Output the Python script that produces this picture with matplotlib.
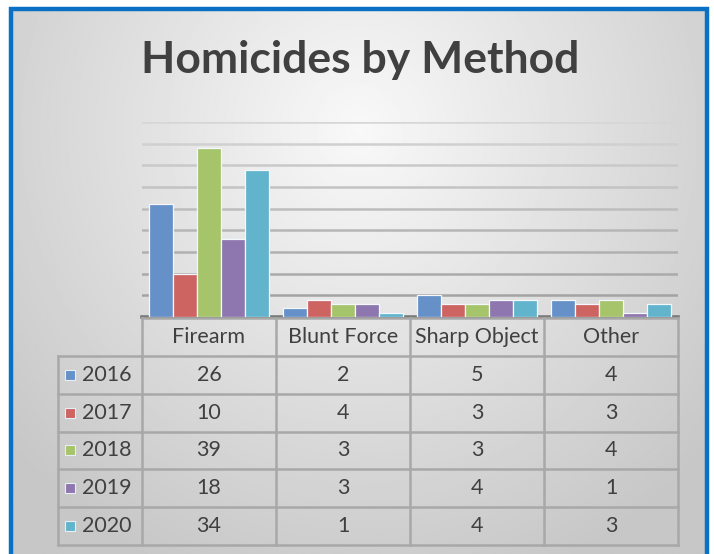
import numpy as np
import matplotlib
matplotlib.use('Agg')
import matplotlib.pyplot as plt
from matplotlib.patches import Rectangle

plt.rcParams['font.family'] = ['Lato', 'DejaVu Sans']

methods = ['Firearm', 'Blunt Force', 'Sharp Object', 'Other']
years = ['2016', '2017', '2018', '2019', '2020']
counts_2016 = [26, 2, 5, 4]
counts_2017 = [10, 4, 3, 3]
counts_2018 = [39, 3, 3, 4]
counts_2019 = [18, 3, 4, 1]
counts_2020 = [34, 1, 4, 3]
series = [counts_2016, counts_2017, counts_2018, counts_2019, counts_2020]
colors = ['#6590C8', '#CD6462', '#A6C46A', '#8E76AE', '#62B4CC']

W, H = 714, 554
fig = plt.figure(figsize=(W / 100, H / 100), dpi=100)
fig.patch.set_facecolor('white')


def px(x0, y0, x1, y1):
    # pixel box (top-left origin) -> figure fraction rect
    return [x0 / W, 1 - y1 / H, (x1 - x0) / W, (y1 - y0) / H]


# background: soft radial gradient inside the blue frame
bg = fig.add_axes(px(12, 9, 707, H))
yy, xx = np.mgrid[0:1:300j, 0:1:400j]
r = np.sqrt(((xx - 0.5) / 0.75) ** 2 + ((yy - 0.22) / 1.0) ** 2)
shade = np.clip(0.975 - 0.22 * r, 0.78, 0.975)
bg.imshow(shade, cmap='gray', vmin=0, vmax=1, aspect='auto', extent=(0, 1, 1, 0))
bg.set_axis_off()
fig.patches.append(Rectangle((11.5 / W, -0.05), 695.5 / W, (H - 8.5) / H + 0.05,
                             transform=fig.transFigure, fill=False,
                             edgecolor='#0A70C6', linewidth=3.2, zorder=10))

fig.text(360 / W, 1 - 60 / H, 'Homicides by Method', ha='center', va='center',
         fontsize=32, fontweight='bold', color='#404040')

# bar chart
ax = fig.add_axes(px(142, 122, 678, 317))
ax.set_facecolor('none')
x = np.arange(len(methods))
bw = 0.178
for i, (vals, c) in enumerate(zip(series, colors)):
    ax.bar(x + (i - 2) * bw, vals, width=bw, color=c, edgecolor='#F4F8FC',
           linewidth=0.9, zorder=3)
ax.set_xlim(-0.5, 3.5)
ax.set_ylim(0, 45)
ax.set_yticks(np.arange(5, 46, 5))
ax.yaxis.grid(True, linewidth=1.8, zorder=0)
for k, gl in enumerate(ax.get_ygridlines()):
    g = 0.64 + 0.025 * k
    gl.set_color((g, g, g))
ax.tick_params(left=False, bottom=False, labelleft=False, labelbottom=False)
for s in ['top', 'right', 'left']:
    ax.spines[s].set_visible(False)
ax.spines['bottom'].set_color('#7A7A7A')
ax.spines['bottom'].set_linewidth(2.6)

# data table below the chart
tx = fig.add_axes(px(142, 318, 678, 545))
tx.set_xlim(-0.5, 3.5)
tx.set_ylim(6, 0)
tx.set_axis_off()
lab_left = -0.5 - 84 / 134
line_kw = dict(color='#A8A8A8', linewidth=1.8, clip_on=False)
tx.plot([-0.5, 3.5], [0, 0], **line_kw)
for r_ in range(1, 7):
    tx.plot([lab_left, 3.5], [r_, r_], **line_kw)
for cx in np.arange(-0.5, 3.6, 1.0):
    tx.plot([cx, cx], [0, 6], **line_kw)
tx.plot([lab_left, lab_left], [1, 6], **line_kw)

txt_kw = dict(ha='center', va='center', fontsize=15.5, color='#404040')
for j, m in enumerate(methods):
    tx.text(j, 0.5, m, **txt_kw)
for i, (yr, vals, c) in enumerate(zip(years, series, colors)):
    row = i + 1.5
    tx.plot(lab_left + 0.09, row, marker='s', markersize=7.5, color=c,
            markeredgecolor='#E8EEF6', markeredgewidth=0.8, clip_on=False)
    tx.text(lab_left + 0.18, row, yr, ha='left', va='center', fontsize=15.5,
            color='#404040')
    for j, v in enumerate(vals):
        tx.text(j, row, str(v), **txt_kw)

fig.savefig('out.png', dpi=100)
